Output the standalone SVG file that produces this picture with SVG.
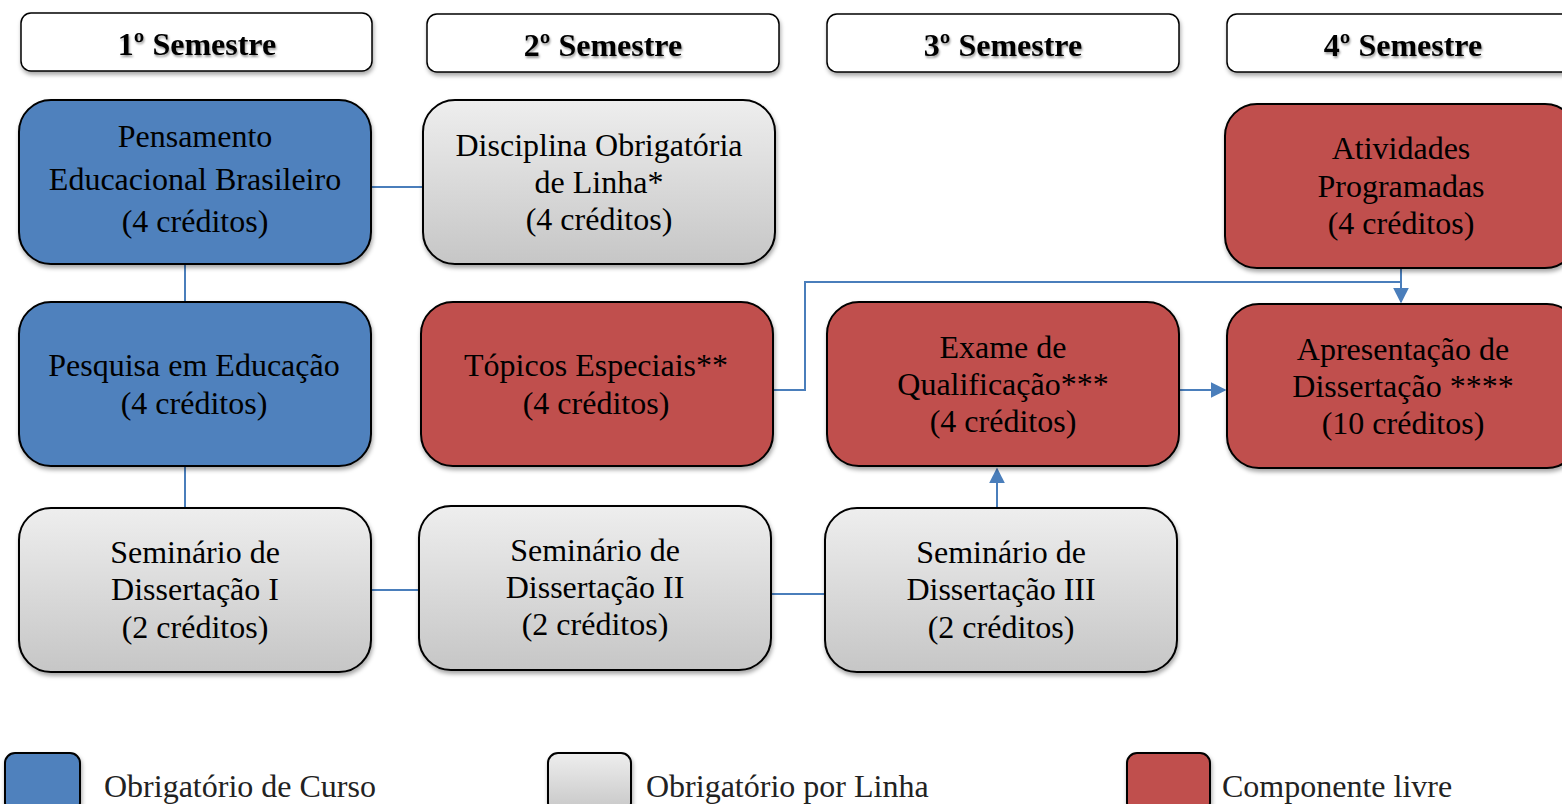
<svg xmlns="http://www.w3.org/2000/svg" width="1562" height="804" viewBox="0 0 1562 804">
<defs>
<style>
.box{stroke:#000;stroke-width:2;filter:url(#sh)}
.blue{fill:#4F81BD}
.red{fill:#C0504D}
.grey{fill:url(#gg)}
.hdr{fill:#fff;stroke:#000;stroke-width:1.5;filter:url(#sh)}
.t{font-family:"Liberation Serif","Times New Roman",serif;font-size:32px;fill:#000;text-anchor:middle}
.h{font-family:"Liberation Serif","Times New Roman",serif;font-size:32px;font-weight:bold;fill:#000;text-anchor:middle;filter:url(#tsh)}
.lg{font-family:"Liberation Serif","Times New Roman",serif;font-size:32px;fill:#222}
.c{fill:none;stroke:#4A7EBB;stroke-width:2}
</style>
<linearGradient id="gg" x1="0" y1="0" x2="0" y2="1">
<stop offset="0" stop-color="#EEEEEE"/>
<stop offset="1" stop-color="#C6C6C6"/>
</linearGradient>
<filter id="sh" x="-10%" y="-10%" width="120%" height="130%">
<feDropShadow dx="1" dy="3" stdDeviation="2" flood-color="#000" flood-opacity="0.35"/>
</filter>
<filter id="tsh" x="-10%" y="-30%" width="120%" height="160%">
<feDropShadow dx="1" dy="2" stdDeviation="1.2" flood-color="#000" flood-opacity="0.4"/>
</filter>
<marker id="ar" viewBox="0 0 10 10" refX="9" refY="5" markerWidth="8" markerHeight="8" orient="auto" markerUnits="strokeWidth">
<path d="M0,0 L10,5 L0,10 z" fill="#4A7EBB"/>
</marker>
</defs>
<rect width="1562" height="804" fill="#fff"/>

<g id="connectors">
<path class="c" d="M372,187 H423"/>
<path class="c" d="M185,265 V302"/>
<path class="c" d="M185,467 V508"/>
<path class="c" d="M372,590 H419"/>
<path class="c" d="M772,594 H825"/>
<path class="c" d="M997,508 V469" marker-end="url(#ar)"/>
<path class="c" d="M1180,390 H1225" marker-end="url(#ar)"/>
<path class="c" d="M774,390 H805 V282 H1401"/>
<path class="c" d="M1401,269 V302" marker-end="url(#ar)"/>
</g>

<g id="hdr1"><rect class="hdr" x="21" y="13" width="351" height="58" rx="10"/><text class="h" x="197" y="55">1º Semestre</text></g>
<g id="hdr2"><rect class="hdr" x="427" y="14" width="352" height="58" rx="10"/><text class="h" x="603" y="56">2º Semestre</text></g>
<g id="hdr3"><rect class="hdr" x="827" y="14" width="352" height="58" rx="10"/><text class="h" x="1003" y="56">3º Semestre</text></g>
<g id="hdr4"><rect class="hdr" x="1227" y="14" width="352" height="58" rx="10"/><text class="h" x="1403" y="56">4º Semestre</text></g>

<g id="pensamento"><rect class="box blue" x="19" y="100" width="352" height="164" rx="32"/>
<text class="t" x="195" y="147">Pensamento</text><text class="t" x="195" y="190">Educacional Brasileiro</text><text class="t" x="195" y="232">(4 créditos)</text></g>

<g id="disciplina"><rect class="box grey" x="423" y="100" width="352" height="164" rx="32"/>
<text class="t" x="599" y="156">Disciplina Obrigatória</text><text class="t" x="599" y="193">de Linha*</text><text class="t" x="599" y="230">(4 créditos)</text></g>

<g id="atividades"><rect class="box red" x="1225" y="104" width="352" height="164" rx="32"/>
<text class="t" x="1401" y="159">Atividades</text><text class="t" x="1401" y="197">Programadas</text><text class="t" x="1401" y="234">(4 créditos)</text></g>

<g id="pesquisa"><rect class="box blue" x="19" y="302" width="352" height="164" rx="32"/>
<text class="t" x="194" y="376">Pesquisa em Educação</text><text class="t" x="194" y="414">(4 créditos)</text></g>

<g id="topicos"><rect class="box red" x="421" y="302" width="352" height="164" rx="32"/>
<text class="t" x="596" y="376">Tópicos Especiais**</text><text class="t" x="596" y="414">(4 créditos)</text></g>

<g id="exame"><rect class="box red" x="827" y="302" width="352" height="164" rx="32"/>
<text class="t" x="1003" y="358">Exame de</text><text class="t" x="1003" y="395">Qualificação***</text><text class="t" x="1003" y="432">(4 créditos)</text></g>

<g id="apresentacao"><rect class="box red" x="1227" y="304" width="352" height="164" rx="32"/>
<text class="t" x="1403" y="360">Apresentação de</text><text class="t" x="1403" y="397">Dissertação ****</text><text class="t" x="1403" y="434">(10 créditos)</text></g>

<g id="sem1"><rect class="box grey" x="19" y="508" width="352" height="164" rx="32"/>
<text class="t" x="195" y="563">Seminário de</text><text class="t" x="195" y="600">Dissertação I</text><text class="t" x="195" y="638"> (2 créditos)</text></g>

<g id="sem2"><rect class="box grey" x="419" y="506" width="352" height="164" rx="32"/>
<text class="t" x="595" y="561">Seminário de</text><text class="t" x="595" y="598">Dissertação II</text><text class="t" x="595" y="635"> (2 créditos)</text></g>

<g id="sem3"><rect class="box grey" x="825" y="508" width="352" height="164" rx="32"/>
<text class="t" x="1001" y="563">Seminário de</text><text class="t" x="1001" y="600">Dissertação III</text><text class="t" x="1001" y="638">(2 créditos)</text></g>

<g id="legend">
<g id="leg-blue"><rect class="box blue" x="5" y="753" width="75" height="60" rx="10"/><text class="lg" x="104" y="797">Obrigatório de Curso</text></g>
<g id="leg-grey"><rect class="box grey" x="548" y="753" width="83" height="60" rx="10"/><text class="lg" x="646" y="797">Obrigatório por Linha</text></g>
<g id="leg-red"><rect class="box red" x="1127" y="753" width="83" height="60" rx="10"/><text class="lg" x="1222" y="797">Componente livre</text></g>
</g>
</svg>
